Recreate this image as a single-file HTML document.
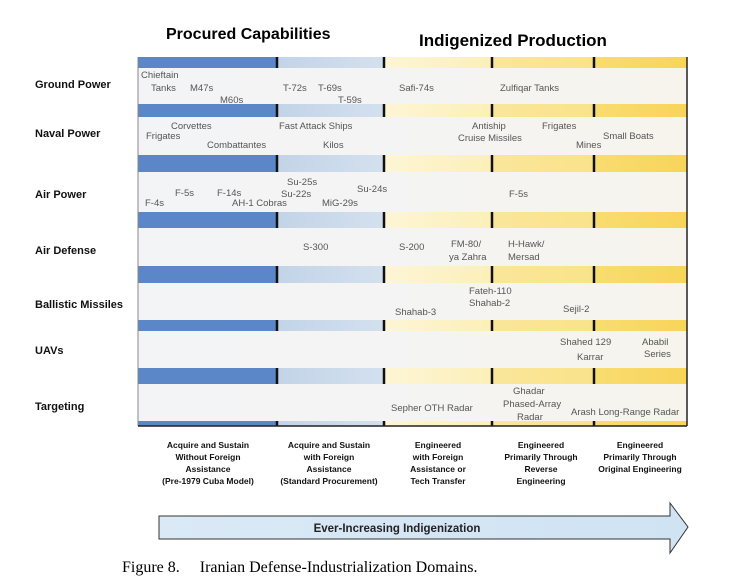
<!DOCTYPE html>
<html><head><meta charset="utf-8"><style>
body{margin:0;background:#fff;width:733px;height:583px;overflow:hidden;position:relative;font-family:"Liberation Sans",sans-serif}
.abs{position:absolute}
.it{position:absolute;font-size:9.5px;color:#555;white-space:nowrap;line-height:11px}
.rl{position:absolute;left:35px;font-size:11px;font-weight:bold;color:#111;white-space:nowrap}
.cap{position:absolute;top:439px;font-size:8.5px;font-weight:bold;text-align:center;line-height:12px;width:130px;color:#111}
</style></head><body>
<div class="abs" style="left:166px;top:26px;font-size:16px;font-weight:bold">Procured Capabilities</div>
<div class="abs" style="left:419px;top:31px;font-size:17px;font-weight:bold">Indigenized Production</div>
<svg class="abs" style="left:0;top:0" width="733" height="583">
<defs>
<linearGradient id="rowbg" x1="0" x2="1"><stop offset="0" stop-color="#f3f4f6"/><stop offset="0.45" stop-color="#f4f4f4"/><stop offset="1" stop-color="#f6f4ec"/></linearGradient>
<linearGradient id="c2" x1="0" x2="1"><stop offset="0" stop-color="#c3d4e8"/><stop offset="1" stop-color="#d3e0ee"/></linearGradient>
<linearGradient id="c3" x1="0" x2="1"><stop offset="0" stop-color="#fdf5d6"/><stop offset="1" stop-color="#fcefb8"/></linearGradient>
<linearGradient id="c4" x1="0" x2="1"><stop offset="0" stop-color="#fae69a"/><stop offset="1" stop-color="#f9e38a"/></linearGradient>
<linearGradient id="c5" x1="0" x2="1"><stop offset="0" stop-color="#f9dc70"/><stop offset="1" stop-color="#f8d45a"/></linearGradient>
<linearGradient id="arr" x1="0" x2="1"><stop offset="0" stop-color="#dbe9f6"/><stop offset="1" stop-color="#cfe3f3"/></linearGradient>
</defs>
<rect x="138" y="57" width="549" height="369" fill="url(#rowbg)"/>
<g id="strips"></g>
<line x1="138" y1="57" x2="138" y2="426" stroke="#888" stroke-width="1"/>
<line x1="687" y1="57" x2="687" y2="426" stroke="#222" stroke-width="1.5"/>
<line x1="138" y1="426" x2="687" y2="426" stroke="#222" stroke-width="1.5"/>
<polygon points="159,516 670,516 670,503 688,527 670,553 670,539 159,539" fill="url(#arr)" stroke="#333" stroke-width="1"/>
<text x="397" y="532" text-anchor="middle" font-size="11.5" font-weight="bold" fill="#222" font-family="Liberation Sans, sans-serif">Ever-Increasing Indigenization</text>
</svg>
<script>
const stripsY=[[57,68],[104,117],[155,172],[212,228],[266,283],[320,331],[368,384],[421,426]];
const cols=[[138,277,'#5b86c8'],[277,384,'url(#c2)'],[384,492,'url(#c3)'],[492,594,'url(#c4)'],[594,687,'url(#c5)']];
const g=document.getElementById('strips');const ns='http://www.w3.org/2000/svg';
stripsY.forEach(([a,b])=>{cols.forEach(([x0,x1,c])=>{const r=document.createElementNS(ns,'rect');
r.setAttribute('x',x0);r.setAttribute('y',a);r.setAttribute('width',x1-x0);r.setAttribute('height',b-a);r.setAttribute('fill',c);


g.appendChild(r);});
[277,384,492,594].forEach(x=>{const l=document.createElementNS(ns,'line');l.setAttribute('x1',x);l.setAttribute('x2',x);l.setAttribute('y1',a);l.setAttribute('y2',b);l.setAttribute('stroke','#111');l.setAttribute('stroke-width','2.5');


g.appendChild(l);});});
</script>
<div class="rl" style="top:79px">Ground Power</div>
<div class="rl" style="top:128px">Naval Power</div>
<div class="rl" style="top:189px">Air Power</div>
<div class="rl" style="top:245px">Air Defense</div>
<div class="rl" style="top:299px">Ballistic Missiles</div>
<div class="rl" style="top:345px">UAVs</div>
<div class="rl" style="top:401px">Targeting</div>
<div>
<div class="it" style="left:141px;top:70px">Chieftain</div>
<div class="it" style="left:151px;top:83px">Tanks</div>
<div class="it" style="left:190px;top:83px">M47s</div>
<div class="it" style="left:220px;top:95px">M60s</div>
<div class="it" style="left:283px;top:83px">T-72s</div>
<div class="it" style="left:318px;top:83px">T-69s</div>
<div class="it" style="left:338px;top:95px">T-59s</div>
<div class="it" style="left:399px;top:83px">Safi-74s</div>
<div class="it" style="left:500px;top:83px">Zulfiqar Tanks</div>
<div class="it" style="left:171px;top:121px">Corvettes</div>
<div class="it" style="left:146px;top:131px">Frigates</div>
<div class="it" style="left:207px;top:140px">Combattantes</div>
<div class="it" style="left:279px;top:121px">Fast Attack Ships</div>
<div class="it" style="left:323px;top:140px">Kilos</div>
<div class="it" style="left:472px;top:121px">Antiship</div>
<div class="it" style="left:458px;top:133px">Cruise Missiles</div>
<div class="it" style="left:542px;top:121px">Frigates</div>
<div class="it" style="left:576px;top:140px">Mines</div>
<div class="it" style="left:603px;top:131px">Small Boats</div>
<div class="it" style="left:287px;top:177px">Su-25s</div>
<div class="it" style="left:357px;top:184px">Su-24s</div>
<div class="it" style="left:175px;top:188px">F-5s</div>
<div class="it" style="left:217px;top:188px">F-14s</div>
<div class="it" style="left:281px;top:189px">Su-22s</div>
<div class="it" style="left:145px;top:198px">F-4s</div>
<div class="it" style="left:232px;top:198px">AH-1 Cobras</div>
<div class="it" style="left:322px;top:198px">MiG-29s</div>
<div class="it" style="left:509px;top:189px">F-5s</div>
<div class="it" style="left:303px;top:242px">S-300</div>
<div class="it" style="left:399px;top:242px">S-200</div>
<div class="it" style="left:451px;top:239px">FM-80/</div>
<div class="it" style="left:449px;top:252px">ya Zahra</div>
<div class="it" style="left:508px;top:239px">H-Hawk/</div>
<div class="it" style="left:508px;top:252px">Mersad</div>
<div class="it" style="left:469px;top:286px">Fateh-110</div>
<div class="it" style="left:469px;top:298px">Shahab-2</div>
<div class="it" style="left:395px;top:307px">Shahab-3</div>
<div class="it" style="left:563px;top:304px">Sejil-2</div>
<div class="it" style="left:560px;top:337px">Shahed 129</div>
<div class="it" style="left:642px;top:337px">Ababil</div>
<div class="it" style="left:577px;top:352px">Karrar</div>
<div class="it" style="left:644px;top:349px">Series</div>
<div class="it" style="left:391px;top:403px">Sepher OTH Radar</div>
<div class="it" style="left:513px;top:386px">Ghadar</div>
<div class="it" style="left:503px;top:399px">Phased-Array</div>
<div class="it" style="left:517px;top:412px">Radar</div>
<div class="it" style="left:571px;top:407px">Arash Long-Range Radar</div>
</div>
<div class="cap" style="left:143px">Acquire and Sustain<br>Without Foreign<br>Assistance<br>(Pre-1979 Cuba Model)</div>
<div class="cap" style="left:264px">Acquire and Sustain<br>with Foreign<br>Assistance<br>(Standard Procurement)</div>
<div class="cap" style="left:373px">Engineered<br>with Foreign<br>Assistance or<br>Tech Transfer</div>
<div class="cap" style="left:476px">Engineered<br>Primarily Through<br>Reverse<br>Engineering</div>
<div class="cap" style="left:575px">Engineered<br>Primarily Through<br>Original Engineering</div>
<div class="abs" style="left:122px;top:559px;font-family:'Liberation Serif',serif;font-size:16px;white-space:pre">Figure 8.     Iranian Defense-Industrialization Domains.</div>
</body></html>
